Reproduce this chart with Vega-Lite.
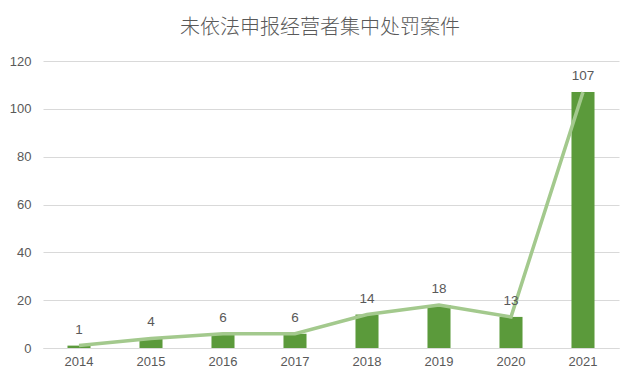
{
  "$schema": "https://vega.github.io/schema/vega-lite/v6.json",
  "width": 576,
  "height": 287,
  "autosize": "none",
  "padding": {"left": 43, "top": 61, "right": 21, "bottom": 33},
  "background": "white",
  "title": {"text": "未依法申报经营者集中处罚案件", "fontSize": 20, "font": "Noto Sans CJK SC", "fontWeight": 300, "color": "#595959", "offset": 17, "dx": -11, "anchor": "middle"},
  "data": {"values": [
    {"year": "2014", "cases": 1},
    {"year": "2015", "cases": 4},
    {"year": "2016", "cases": 6},
    {"year": "2017", "cases": 6},
    {"year": "2018", "cases": 14},
    {"year": "2019", "cases": 18},
    {"year": "2020", "cases": 13},
    {"year": "2021", "cases": 107}
  ]},
  "encoding": {
    "x": {"field": "year", "type": "ordinal", "scale": {"paddingInner": 0.68, "paddingOuter": 0.34}, "axis": {"title": null, "labelAngle": 0, "labelFontSize": 13, "labelColor": "#595959", "labelFont": "Liberation Sans", "ticks": false, "domainColor": "#D9D9D9", "labelPadding": 7}},
    "y": {"field": "cases", "type": "quantitative", "scale": {"domain": [0, 120]}, "axis": {"title": null, "values": [0, 20, 40, 60, 80, 100, 120], "labelFontSize": 13, "labelColor": "#595959", "labelFont": "Liberation Sans", "ticks": false, "domain": false, "gridColor": "#D9D9D9", "labelPadding": 12}}
  },
  "layer": [
    {"mark": {"type": "bar", "color": "#5B9A3B"}},
    {"mark": {"type": "line", "color": "#A3C98D", "strokeWidth": 3.5}},
    {"mark": {"type": "text", "dy": -16, "fontSize": 13.5, "color": "#595959", "font": "Liberation Sans"}, "encoding": {"text": {"field": "cases", "type": "quantitative"}}}
  ],
  "config": {"view": {"stroke": null}}
}
